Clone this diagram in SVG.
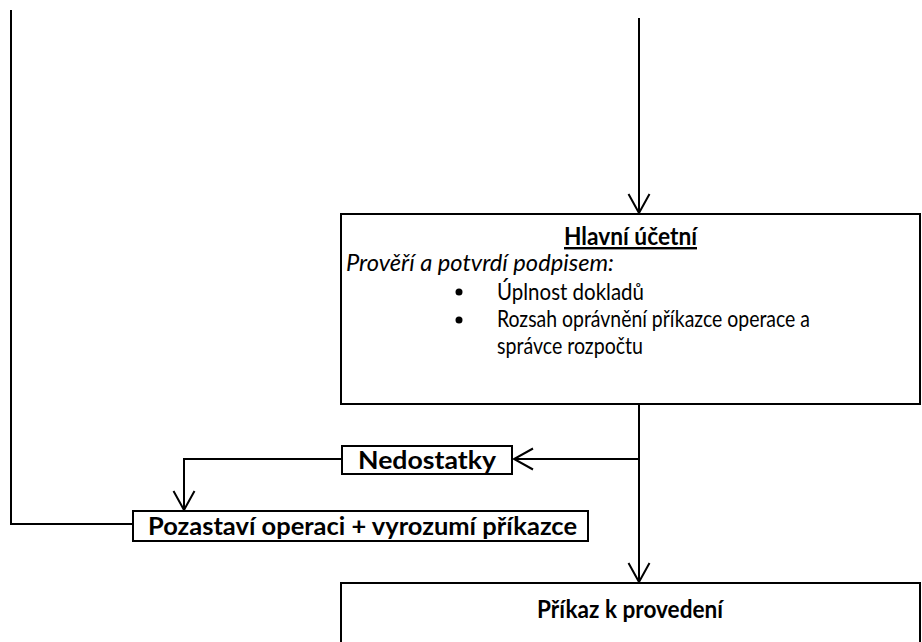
<svg xmlns="http://www.w3.org/2000/svg" width="922" height="642" viewBox="0 0 922 642">
<style>
.box{fill:#fff;stroke:#000;stroke-width:2}
.ln{fill:none;stroke:#000;stroke-width:2}
.t{font-family:Lato,"Liberation Sans",sans-serif;font-size:23px;fill:#000}
.b{font-weight:bold;font-size:24px}
.i{font-style:italic}
</style>
<defs>
<marker id="arr" viewBox="0 0 22 26" refX="20" refY="13" markerWidth="22" markerHeight="26" markerUnits="userSpaceOnUse" orient="auto">
<path d="M1,2.5 L20,13 L1,23.5" fill="none" stroke="#000" stroke-width="2"/>
</marker>
</defs>
<rect width="922" height="642" fill="#fff"/>
<g id="connectors">
<line class="ln" x1="639" y1="18" x2="639" y2="213" marker-end="url(#arr)"/>
<polyline class="ln" points="11,10 11,524 133,524"/>
<line class="ln" x1="639" y1="404" x2="639" y2="582" marker-end="url(#arr)"/>
<line class="ln" x1="639" y1="459" x2="514" y2="459" marker-end="url(#arr)"/>
<polyline class="ln" points="342,459 184,459 184,510" marker-end="url(#arr)"/>
</g>
<g id="hlavni">
<rect class="box" x="341" y="214" width="579" height="190"/>
<text class="t b" x="564" y="245" textLength="133" lengthAdjust="spacingAndGlyphs" text-decoration="underline">Hlavní účetní</text>
<text class="t i" x="346" y="271" textLength="268" lengthAdjust="spacingAndGlyphs">Prověří a potvrdí podpisem:</text>
<circle cx="459" cy="292" r="3.5"/>
<text class="t" x="497" y="300" textLength="147" lengthAdjust="spacingAndGlyphs">Úplnost dokladů</text>
<circle cx="459" cy="320" r="3.5"/>
<text class="t" x="497" y="327" textLength="313" lengthAdjust="spacingAndGlyphs">Rozsah oprávnění příkazce operace a</text>
<text class="t" x="497" y="354" textLength="146" lengthAdjust="spacingAndGlyphs">správce rozpočtu</text>
</g>
<g id="nedostatky">
<rect class="box" x="342" y="446" width="170" height="28"/>
<text class="t b" x="358" y="469" textLength="138" lengthAdjust="spacingAndGlyphs">Nedostatky</text>
</g>
<g id="pozastavi">
<rect class="box" x="133" y="511" width="455" height="30"/>
<text class="t b" x="148" y="535" textLength="429" lengthAdjust="spacingAndGlyphs">Pozastaví operaci + vyrozumí příkazce</text>
</g>
<g id="prikaz">
<rect class="box" x="341" y="583" width="579" height="70"/>
<text class="t b" x="537" y="618" textLength="186" lengthAdjust="spacingAndGlyphs">Příkaz k provedení</text>
</g>
</svg>
